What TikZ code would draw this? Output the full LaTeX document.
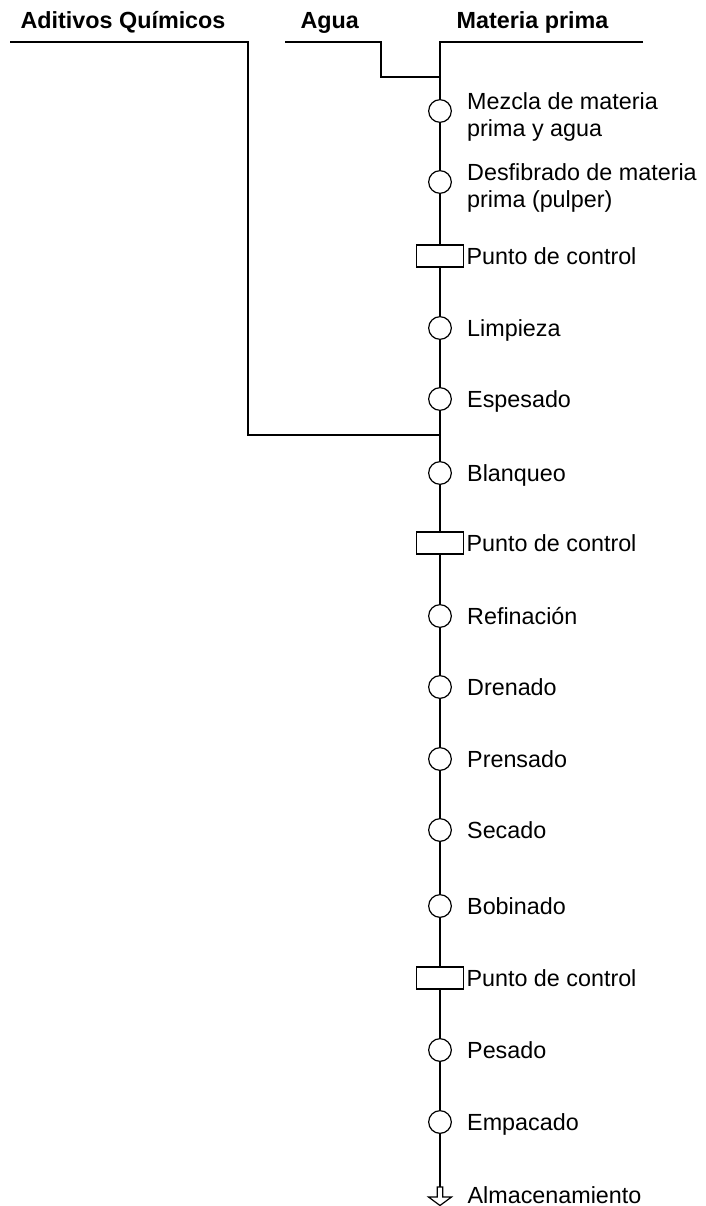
\documentclass[tikz,border=0pt]{standalone}
\usepackage{fontspec}
\setmainfont{Liberation Sans}
\usetikzlibrary{positioning}

\begin{document}
\begin{tikzpicture}[
x=0.75pt, y=-0.75pt, line width=0.9pt,
font=\fontsize{17.5pt}{20.2pt}\selectfont,
step-node/.style = {circle, draw=black, fill=white, minimum size=17pt, inner sep=0pt},
control-node/.style = {rectangle, draw=black, fill=white, minimum width=35pt, minimum height=16.5pt, inner sep=0pt},
step-label/.style = {inner sep=0pt, text height=12.5pt, text depth=0pt},
long-label/.style = {inner sep=0pt, align=left},
head-label/.style = {inner sep=0pt, anchor=base west, font=\fontsize{17.5pt}{20.2pt}\selectfont\bfseries}
]
\useasboundingbox (0,0) rectangle (706,1206);

% inputs
\coordinate (adit-l) at (10,42);
\coordinate (adit-c) at (248,42);
\coordinate (agua-l) at (285,42);
\coordinate (agua-c) at (381,42);
\coordinate (mp-r) at (643,42);
\coordinate (mp-top) at (440,42);
\coordinate (agua-in) at (440,77);
\coordinate (adit-in) at (440,435);
\coordinate (almacen) at (440,1187);

\node [head-label] (h-adit) at (20,29) {Aditivos Químicos};
\node [head-label] (h-agua) at (300,29) {Agua};
\node [head-label] (h-mp) at (456,29) {Materia prima};

% steps
\node [step-node] (mezcla) at (440,111) {};
\node [step-node] (desfib) at (440,182) {};
\node [control-node] (pc1) at (440,256) {};
\node [step-node] (limpieza) at (440,328) {};
\node [step-node] (espesado) at (440,399) {};
\node [step-node] (blanqueo) at (440,473) {};
\node [control-node] (pc2) at (440,543) {};
\node [step-node] (refin) at (440,616) {};
\node [step-node] (drenado) at (440,687) {};
\node [step-node] (prensado) at (440,759) {};
\node [step-node] (secado) at (440,830) {};
\node [step-node] (bobinado) at (440,906) {};
\node [control-node] (pc3) at (440,978) {};
\node [step-node] (pesado) at (440,1050) {};
\node [step-node] (empacado) at (440,1122) {};

% labels
\node [long-label, right=11pt of mezcla, yshift=-4.8pt] (t-mezcla) {Mezcla de materia\\prima y agua};
\node [long-label, right=11pt of desfib, yshift=-4.8pt] (t-desfib) {Desfibrado de materia\\prima (pulper)};
\node [step-label, right=1.5pt of pc1] (t-pc1) {Punto de control};
\node [step-label, right=11pt of limpieza] (t-limpieza) {Limpieza};
\node [step-label, right=11pt of espesado] (t-espesado) {Espesado};
\node [step-label, right=11pt of blanqueo] (t-blanqueo) {Blanqueo};
\node [step-label, right=1.5pt of pc2] (t-pc2) {Punto de control};
\node [step-label, right=11pt of refin] (t-refin) {Refinación};
\node [step-label, right=11pt of drenado] (t-drenado) {Drenado};
\node [step-label, right=11pt of prensado] (t-prensado) {Prensado};
\node [step-label, right=11pt of secado] (t-secado) {Secado};
\node [step-label, right=11pt of bobinado] (t-bobinado) {Bobinado};
\node [step-label, right=1.5pt of pc3] (t-pc3) {Punto de control};
\node [step-label, right=11pt of pesado] (t-pesado) {Pesado};
\node [step-label, right=11pt of empacado] (t-empacado) {Empacado};
\node [step-label, anchor=base west] (t-almacen) at (467,1203) {Almacenamiento};

% lines
\draw (adit-l) -- (adit-c) |- (adit-in);
\draw (agua-l) -- (agua-c) |- (agua-in);
\draw (mp-r) -- (mp-top) -- (mezcla);
\draw (mezcla) -- (desfib) -- (pc1) -- (limpieza) -- (espesado) -- (blanqueo) -- (pc2) -- (refin);
\draw (refin) -- (drenado) -- (prensado) -- (secado) -- (bobinado) -- (pc3) -- (pesado) -- (empacado) -- (almacen);
\draw [fill=white] (almacen) ++(-2.75,0) -- ++(5.5,0) -- ++(0,10) -- ++(8.75,0) -- ++(-11.5,8.5) -- ++(-11.5,-8.5) -- ++(8.75,0) -- cycle;

\end{tikzpicture}
\end{document}
